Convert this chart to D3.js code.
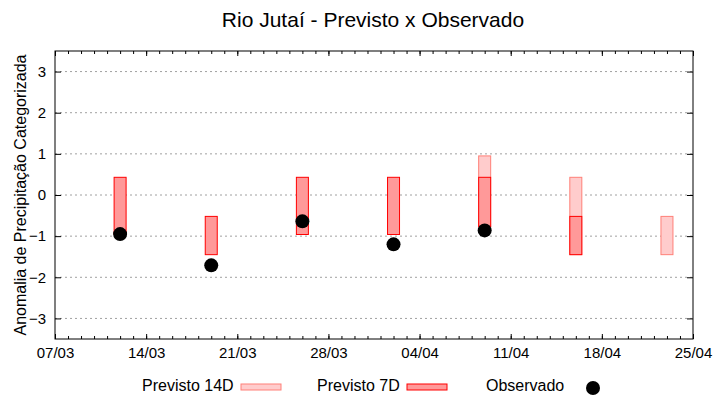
<!doctype html>
<html>
<head>
<meta charset="utf-8">
<script src="https://d3js.org/d3.v7.min.js"></script>
<style>
  body { margin: 0; background: #fff; }
  text { font-family: "Liberation Sans", Arial, sans-serif; fill: #000; }
</style>
</head>
<body>
<svg width="720" height="400"></svg>
<script>
// dates of each forecast week
var dates = ["2021-03-12", "2021-03-19", "2021-03-26", "2021-04-02", "2021-04-09", "2021-04-16", "2021-04-23"];
// forecast ranges (null = none)
var p14Top = [null, null, null, null, 0.95, 0.43, -0.52];
var p14Bot = [null, null, null, null, -0.77, -1.45, -1.45];
var p7Top = [0.43, -0.52, 0.43, 0.43, 0.43, -0.52, null];
var p7Bot = [-0.96, -1.45, -0.96, -0.96, -0.77, -1.45, null];
var observed = [-0.95, -1.71, -0.64, -1.20, -0.86, null, null];
var yTicks = [-3, -2, -1, 0, 1, 2, 3];

var parse = d3.timeParse("%Y-%m-%d");
var svg = d3.select("svg");
var pLeft = 55, pRight = 693, pTop = 51, pBottom = 339;

var x = d3.scaleTime()
    .domain([parse("2021-03-07"), parse("2021-04-25")])
    .range([pLeft, pRight]);
var y = d3.scaleLinear().domain([-3.5, 3.5]).range([pBottom, pTop]);

// grid
svg.append("g").selectAll("line")
    .data(yTicks).enter().append("line")
    .attr("x1", pLeft).attr("x2", pRight)
    .attr("y1", function(d) { return y(d); })
    .attr("y2", function(d) { return y(d); })
    .attr("stroke", "#a0a0a0")
    .attr("stroke-dasharray", "2,3");

// bars
var bw = 12;
function bars(top_, bot_, fill, stroke) {
    var rows = dates.map(function(d, i) { return {d: parse(d), t: top_[i], b: bot_[i]}; })
        .filter(function(r) { return r.t !== null; });
    svg.append("g").selectAll("rect")
        .data(rows).enter().append("rect")
        .attr("x", function(r) { return x(r.d) - bw / 2; })
        .attr("y", function(r) { return y(r.t); })
        .attr("width", bw)
        .attr("height", function(r) { return y(r.b) - y(r.t); })
        .attr("fill", fill)
        .attr("stroke", stroke)
        .attr("stroke-width", 1);
}
bars(p14Top, p14Bot, "#ffcccc", "#ff8078");
bars(p7Top, p7Bot, "#ff9999", "#ff0000");

// observed
var obs = dates.map(function(d, i) { return {d: parse(d), v: observed[i]}; })
    .filter(function(r) { return r.v !== null; });
svg.append("g").selectAll("circle")
    .data(obs).enter().append("circle")
    .attr("cx", function(r) { return x(r.d); })
    .attr("cy", function(r) { return y(r.v); })
    .attr("r", 7)
    .attr("fill", "#000");

// axes
var fmt = d3.timeFormat("%d/%m");
var weeks = d3.range(0, 8).map(function(i) { return d3.timeDay.offset(parse("2021-03-07"), 7 * i); });
var days = d3.range(0, 50).map(function(i) { return d3.timeDay.offset(parse("2021-03-07"), i); });

function styleAxis(g) {
    g.select(".domain").remove();
    g.selectAll("line").attr("stroke", "#000");
    g.selectAll("text").style("font-size", "15px");
}

// minor day ticks bottom and top
svg.append("g").attr("transform", "translate(0," + pBottom + ")")
    .call(d3.axisTop(x).tickValues(days).tickSize(3).tickFormat(""))
    .call(styleAxis);
svg.append("g").attr("transform", "translate(0," + pTop + ")")
    .call(d3.axisBottom(x).tickValues(days).tickSize(3).tickFormat(""))
    .call(styleAxis);
svg.append("g").attr("transform", "translate(0," + pBottom + ")")
    .call(d3.axisTop(x).tickValues(weeks).tickSize(5).tickFormat(""))
    .call(styleAxis);
svg.append("g").attr("transform", "translate(0," + pTop + ")")
    .call(d3.axisBottom(x).tickValues(weeks).tickSize(5).tickFormat(""))
    .call(styleAxis);
// labels
svg.append("g").attr("transform", "translate(0," + pBottom + ")")
    .call(d3.axisBottom(x).tickValues(weeks).tickSize(0).tickPadding(8).tickFormat(fmt))
    .call(styleAxis);

svg.append("g").attr("transform", "translate(" + pLeft + ",0)")
    .call(d3.axisRight(y).tickValues(yTicks).tickSize(6).tickFormat(""))
    .call(styleAxis);
svg.append("g").attr("transform", "translate(" + pRight + ",0)")
    .call(d3.axisLeft(y).tickValues(yTicks).tickSize(6).tickFormat(""))
    .call(styleAxis);
svg.append("g").attr("transform", "translate(" + pLeft + ",0)")
    .call(d3.axisLeft(y).tickValues(yTicks).tickSize(0).tickPadding(9).tickFormat(d3.format("d")))
    .call(styleAxis);

// border
svg.append("rect")
    .attr("x", pLeft).attr("y", pTop)
    .attr("width", pRight - pLeft).attr("height", pBottom - pTop)
    .attr("fill", "none").attr("stroke", "#000");

// title
svg.append("text")
    .attr("x", 373).attr("y", 27)
    .attr("text-anchor", "middle")
    .style("font-size", "21px")
    .text("Rio Jutaí - Previsto x Observado");

svg.append("text")
    .attr("transform", "translate(26," + ((pTop + pBottom) / 2) + ") rotate(-90)")
    .attr("text-anchor", "middle")
    .style("font-size", "16px")
    .text("Anomalia de Precipitação Categorizada");

// legend
var lg = svg.append("g").style("font-size", "16px");
lg.append("text").attr("x", 142).attr("y", 391).text("Previsto 14D");
lg.append("rect").attr("x", 241).attr("y", 384).attr("width", 40).attr("height", 6)
    .attr("fill", "#ffcccc").attr("stroke", "#ff8078");
lg.append("text").attr("x", 317).attr("y", 391).text("Previsto 7D");
lg.append("rect").attr("x", 407).attr("y", 384).attr("width", 40).attr("height", 6)
    .attr("fill", "#ff9999").attr("stroke", "#ff0000");
lg.append("text").attr("x", 486).attr("y", 391).text("Observado");
lg.append("circle").attr("cx", 593).attr("cy", 388).attr("r", 7).attr("fill", "#000");
</script>
</body>
</html>
